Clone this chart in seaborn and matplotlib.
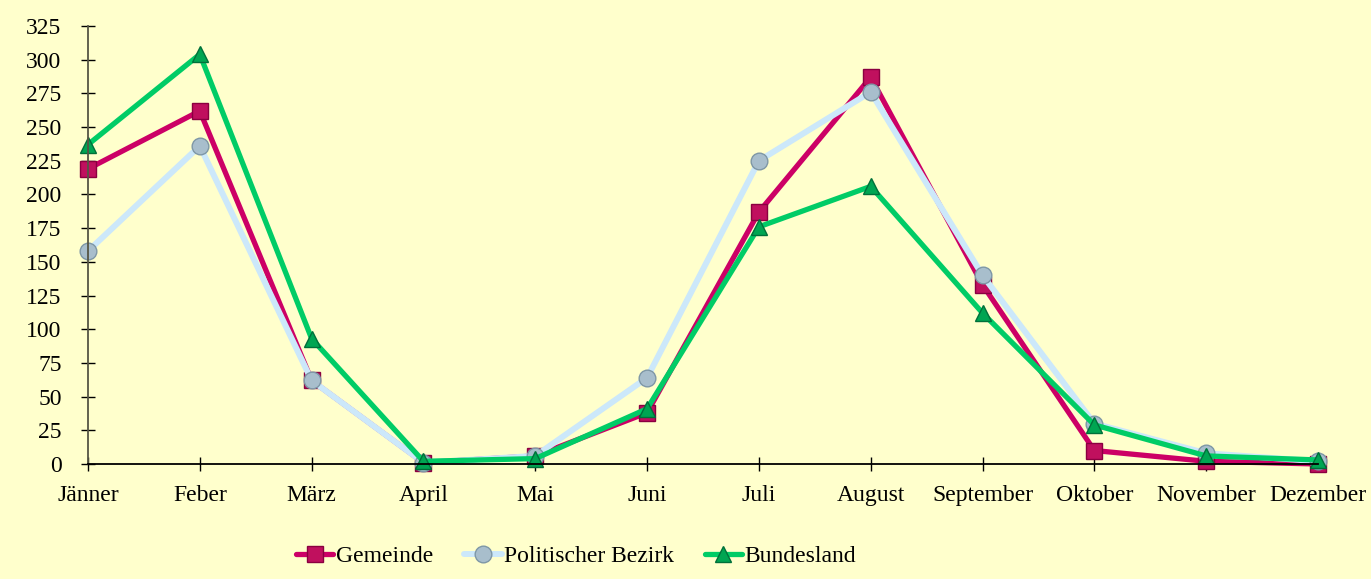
import pandas as pd
import matplotlib.pyplot as plt
import seaborn as sns

# Monatswerte
monate = ["Jänner", "Feber", "März", "April", "Mai", "Juni", "Juli",
          "August", "September", "Oktober", "November", "Dezember"]
gemeinde = [219, 262, 62, 1, 6, 38, 187, 287, 133, 10, 2, 0]
bezirk = [158, 236, 62, 1, 6, 64, 225, 276, 140, 30, 8, 2]
bundesland = [237, 304, 93, 2, 4, 41, 176, 206, 112, 29, 6, 3]

df = pd.DataFrame({"monat": monate, "Gemeinde": gemeinde,
                   "Politischer Bezirk": bezirk, "Bundesland": bundesland})
df["pos"] = range(len(monate))
long = df.melt(id_vars=["monat", "pos"], var_name="serie", value_name="wert")

sns.set_style("ticks")
plt.rcParams["font.family"] = ["Liberation Serif", "DejaVu Serif"]

bg = "#FFFFCC"
fig = plt.figure(figsize=(13.71, 5.79), dpi=100, facecolor=bg)
ax = fig.add_axes([88 / 1371, 1 - 464 / 579, (1318 - 88) / 1371, (464 - 26) / 579])
ax.set_facecolor(bg)

line_cols = {"Gemeinde": "#CC0066", "Politischer Bezirk": "#CCE8FA", "Bundesland": "#00CC66"}
mk = {"Gemeinde": "s", "Politischer Bezirk": "o", "Bundesland": "^"}
mk_face = {"Gemeinde": "#C0105E", "Politischer Bezirk": "#A8BECC", "Bundesland": "#00A552"}
mk_edge = {"Gemeinde": "#8A0040", "Politischer Bezirk": "#7E97A6", "Bundesland": "#00703A"}
lw = {"Gemeinde": 3.8, "Politischer Bezirk": 4.3, "Bundesland": 3.8}

for name in ["Gemeinde", "Politischer Bezirk", "Bundesland"]:
    sub = long[long["serie"] == name]
    sns.lineplot(data=sub, x="pos", y="wert", ax=ax, color=line_cols[name],
                 linewidth=lw[name], marker=mk[name], markersize=12,
                 markerfacecolor=mk_face[name], markeredgecolor=mk_edge[name],
                 markeredgewidth=1.0, label=name, clip_on=False)

ax.set_xlim(0, 11)
ax.set_ylim(0, 325)
ax.set_xticks(range(len(monate)))
ax.set_xticklabels(monate)
ax.set_yticks(range(0, 326, 25))
ax.set_xlabel("")
ax.set_ylabel("")
ax.tick_params(axis="both", direction="inout", length=10, width=1,
               labelsize=17, colors="black")
ax.tick_params(axis="y", pad=14)
ax.tick_params(axis="x", pad=10)
for s in ["top", "right"]:
    ax.spines[s].set_visible(False)
ax.spines["left"].set_color("#555544")
ax.spines["left"].set_linewidth(1.3)
ax.spines["bottom"].set_color("black")
ax.spines["bottom"].set_linewidth(1.3)

ax.get_legend().remove()
handles, labels = ax.get_legend_handles_labels()
fig.legend(handles, labels, loc="center", bbox_to_anchor=(576 / 1371, 1 - 556 / 579),
           ncol=3, frameon=False, fontsize=17, handlelength=1.6,
           handletextpad=0.1, columnspacing=1.3, markerscale=1.0,
           labelcolor="black")

fig.savefig("out.png", dpi=100, facecolor=bg)
